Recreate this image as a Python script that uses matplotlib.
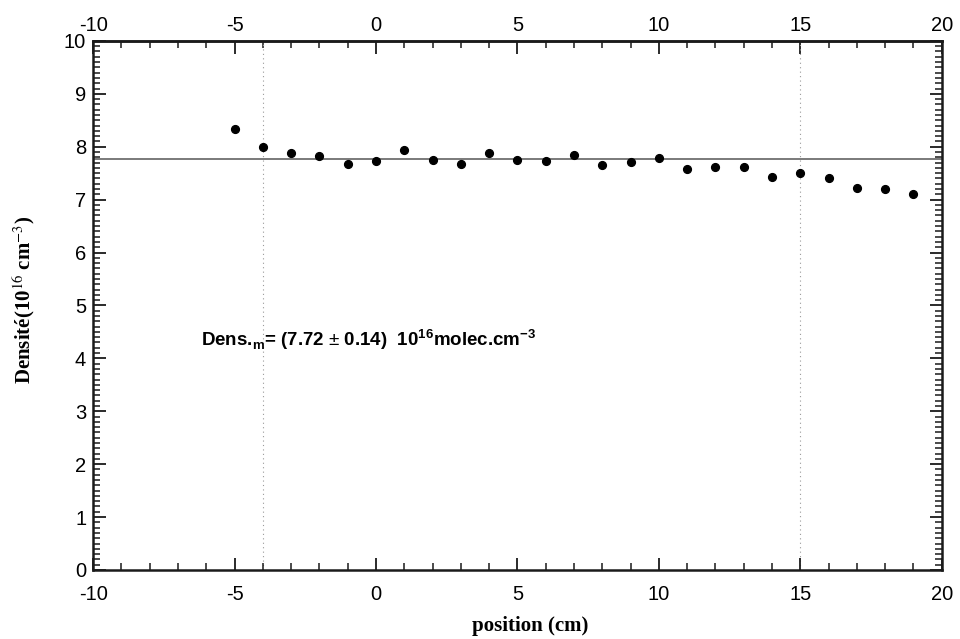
import matplotlib
matplotlib.use("Agg")
import matplotlib.pyplot as plt
from matplotlib.ticker import MultipleLocator, FixedLocator

# positions (cm) and measured density (1e16 cm^-3)
positions = [-5, -4, -3, -2, -1, 0, 1, 2, 3, 4, 5, 6, 7, 8, 9, 10,
             11, 12, 13, 14, 15, 16, 17, 18, 19]
densities = [8.33, 8.00, 7.88, 7.82, 7.67, 7.73, 7.94, 7.74, 7.68, 7.89,
             7.75, 7.73, 7.84, 7.66, 7.71, 7.78, 7.57, 7.62, 7.62, 7.43,
             7.50, 7.40, 7.22, 7.20, 7.11]
mean_level = 7.77
limits_x = [-4, 15]
x_major = [-10, -5, 0, 5, 10, 15, 20]
x_minor = list(range(-10, 21))

plt.rcParams["font.family"] = ["Liberation Sans", "DejaVu Sans"]
plt.rcParams["axes.unicode_minus"] = False
plt.rcParams["mathtext.fontset"] = "custom"
plt.rcParams["mathtext.rm"] = "Liberation Sans"
plt.rcParams["mathtext.bf"] = "Liberation Sans:bold"

INK = "#1a1a1a"

fig = plt.figure(figsize=(9.6, 6.39), dpi=100, facecolor="white")
ax = fig.add_axes([0.097, 0.108, 0.884, 0.828])

ax.axhline(mean_level, color="#707070", lw=1.3, zorder=2)
for xv in limits_x:
    ax.axvline(xv, color="#9a9a9a", lw=0.8, ls=(0, (1, 3)), zorder=1)
ax.plot(positions, densities, "o", color="black", ms=5.6, zorder=3)

ax.set_xlim(-10, 20)
ax.set_ylim(0, 10)
ax.xaxis.set_major_locator(FixedLocator(x_major))
ax.xaxis.set_minor_locator(FixedLocator(x_minor))
ax.yaxis.set_major_locator(MultipleLocator(1))
ax.yaxis.set_minor_locator(MultipleLocator(0.1))

ax.tick_params(which="both", direction="in", top=False, right=True,
               labelsize=14.5, width=1.3, color=INK)
ax.tick_params(which="major", length=9)
ax.tick_params(which="minor", length=5, width=1.1)
ax.tick_params(axis="x", which="major", pad=11)
ax.tick_params(axis="y", which="major", pad=5)
for sp in ax.spines.values():
    sp.set_linewidth(1.8)
    sp.set_color(INK)

# top axis repeats the position scale
top = ax.secondary_xaxis("top")
top.xaxis.set_major_locator(FixedLocator(x_major))
top.xaxis.set_minor_locator(FixedLocator(x_minor))
top.tick_params(which="both", direction="in", labelsize=14.5, width=1.3, color=INK)
top.tick_params(which="major", length=9, pad=4)
top.tick_params(which="minor", length=5, width=1.1)
top.spines["top"].set_linewidth(1.8)
top.spines["top"].set_color(INK)

ax.text(-6.2, 4.35, r"Dens.$_{\mathbf{m}}$= (7.72 $\pm$ 0.14)  10$^{\mathbf{16}}$molec.cm$^{\mathbf{-3}}$",
        fontsize=13.5, fontweight="bold", ha="left", va="center")

serif = ["Liberation Serif", "DejaVu Serif"]
fig.text(0.552, 0.004, "position (cm)", family=serif, fontweight="bold",
         fontsize=15, ha="center", va="bottom")
fig.text(0.025, 0.53, r"Densité(10$^{16}$ cm$^{-3}$)", family=serif,
         fontweight="bold", fontsize=15, rotation=90, ha="center", va="center",
         math_fontfamily="stix")

fig.savefig("out.png", dpi=100, facecolor="white")
